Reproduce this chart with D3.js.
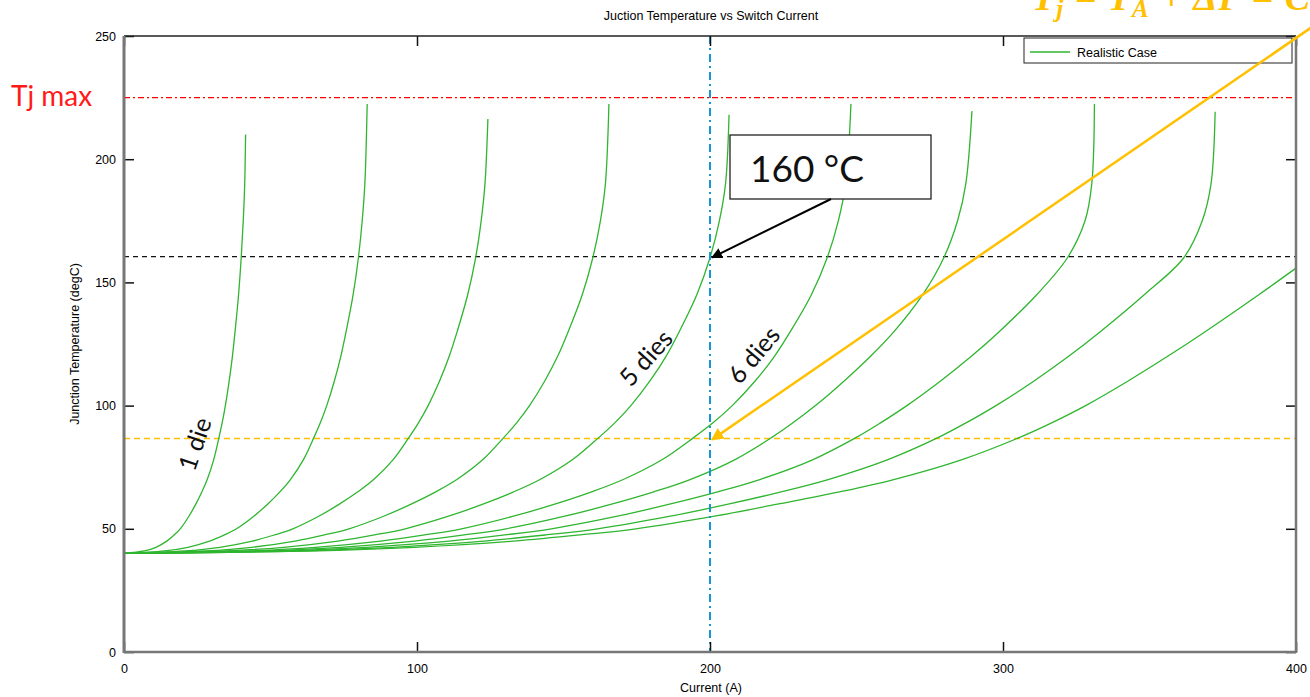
<!DOCTYPE html>
<html>
<head>
<meta charset="utf-8">
<script src="https://cdn.jsdelivr.net/npm/d3@7"></script>
<style>
  body { margin: 0; background: #fff; }
  svg { display: block; }
  .tick text { font-family: "Liberation Sans", Arial, sans-serif; font-size: 12.5px; fill: #000; }
</style>
</head>
<body>
<div id="chart"></div>
<script>
// temperature levels (degC) at which the current of each curve was read
var tempLevels = [40, 41, 42.5, 45, 47.5, 50, 55, 60, 65, 70, 78, 87, 93, 100, 110, 120, 130, 145, 160, 175, 190];

// current (A) of each curve at the temperature levels above
var die1  = [0, 6.9, 10.9, 14.6, 17.1, 19.2, 22.1, 24.5, 26.6, 28.4, 30.6, 32.4, 33.5, 34.6, 35.9, 37.0, 37.9, 39.1, 40.0, 40.7, 41.2];
var die2  = [0, 13.8, 21.8, 29.2, 34.2, 38.4, 44.2, 49, 53.2, 56.8, 61.2, 64.8, 67, 69.2, 71.8, 74, 75.8, 78.2, 80, 81.3, 82.2];
var die3  = [0, 20.7, 32.7, 43.8, 51.3, 57.6, 66.3, 73.5, 79.8, 85.2, 91.8, 97.2, 100.5, 103.8, 107.7, 111, 113.7, 117.3, 120, 121.9, 123.2];
var die4  = [0, 27.6, 43.6, 58.4, 68.4, 76.8, 88.4, 98, 106.4, 113.6, 122.4, 129.6, 134, 138.4, 143.6, 148, 151.6, 156.4, 160, 162.6, 164.3];
var die5  = [0, 34.5, 54.5, 73, 85.5, 96, 110.5, 122.5, 133, 142, 153, 162, 167.5, 173, 179.5, 185, 189.5, 195.5, 200, 203.2, 205.3];
var die6  = [0, 41.4, 65.4, 87.6, 102.6, 115.2, 132.6, 147, 159.6, 170.4, 183.6, 194.4, 201, 207.6, 215.4, 222, 227.4, 234.6, 240, 243.8, 246.3];
var die7  = [0, 46.9, 74.0, 99.1, 116.1, 130.4, 150.1, 166.4, 180.8, 193.2, 208.4, 221, 228.3, 236, 245.8, 254.8, 262.8, 272.6, 279.8, 284.5, 287.3];
var die8  = [0, 52.4, 82.8, 111, 130, 145.9, 168, 186.2, 202.6, 217, 235, 249.8, 258.2, 267.2, 278.7, 289.2, 298.7, 311.5, 322, 328, 330.3];
var die9  = [0, 58.1, 91.7, 122.9, 143.9, 161.6, 186, 206.2, 224.3, 240.3, 260.5, 277.8, 287.4, 297.6, 310.6, 322.4, 333.2, 348.2, 361.7, 368, 371];
var die10 = [0, 62.8, 99.2, 132.9, 155.6, 174.7, 201.1, 223, 244.2, 262.7, 285.8, 305.5, 316.6, 328.2, 342.7, 356.2, 369, 387.3, null, null, null];

// last point of each curve
var endCurrent = [41.5, 83, 124.2, 165.5, 206.5, 248.1, 289.4, 331.2, 372.4, 400];
var endTemp    = [210, 222.4, 216.3, 222.4, 218, 222.4, 219.5, 222.4, 219.3, 155.8];

var xTicks = [0, 100, 200, 300, 400];
var yTicks = [0, 50, 100, 150, 200, 250];

var tjMax = 225, tjMark = 160.5, tjYellow = 86.6, iMark = 200;

var curves = [die1, die2, die3, die4, die5, die6, die7, die8, die9, die10];

var W = 1310, H = 697;
var svg = d3.select("#chart").append("svg")
    .attr("width", W)
    .attr("height", H);

var x = d3.scaleLinear().domain([0, 400]).range([124, 1296]);
var y = d3.scaleLinear().domain([0, 250]).range([652, 36]);

var defs = svg.append("defs");
defs.append("marker")
    .attr("id", "headBlack")
    .attr("viewBox", "0 0 10 10")
    .attr("refX", 9).attr("refY", 5)
    .attr("markerWidth", 5.5).attr("markerHeight", 5.5)
    .attr("markerUnits", "strokeWidth")
    .attr("orient", "auto")
    .append("path").attr("d", "M0,0 L10,5 L0,10 z").attr("fill", "#000");
defs.append("marker")
    .attr("id", "headYellow")
    .attr("viewBox", "0 0 10 10")
    .attr("refX", 9).attr("refY", 5)
    .attr("markerWidth", 5).attr("markerHeight", 5)
    .attr("markerUnits", "strokeWidth")
    .attr("orient", "auto")
    .append("path").attr("d", "M0,0 L10,5 L0,10 z").attr("fill", "#ffc000");

// title and axis labels
svg.append("text")
    .attr("x", 711).attr("y", 20)
    .attr("text-anchor", "middle")
    .style("font-family", "Liberation Sans, Arial, sans-serif")
    .style("font-size", "12.5px")
    .attr("fill", "#000")
    .text("Juction Temperature vs Switch Current");

svg.append("text")
    .attr("x", 711).attr("y", 692)
    .attr("text-anchor", "middle")
    .style("font-family", "Liberation Sans, Arial, sans-serif")
    .style("font-size", "12.5px")
    .attr("fill", "#000")
    .text("Current (A)");

svg.append("text")
    .attr("transform", "translate(79,344) rotate(-90)")
    .attr("text-anchor", "middle")
    .style("font-family", "Liberation Sans, Arial, sans-serif")
    .style("font-size", "12.5px")
    .attr("fill", "#000")
    .text("Junction Temperature (degC)");

// reference lines
svg.append("line")
    .attr("x1", x(0)).attr("x2", x(400))
    .attr("y1", y(tjMax)).attr("y2", y(tjMax))
    .attr("stroke", "#ff0000").attr("stroke-width", 1.2)
    .attr("stroke-dasharray", "6,3,2,3");

svg.append("line")
    .attr("x1", x(0)).attr("x2", x(400))
    .attr("y1", y(tjMark)).attr("y2", y(tjMark))
    .attr("stroke", "#111").attr("stroke-width", 1.2)
    .attr("stroke-dasharray", "5,4");

svg.append("line")
    .attr("x1", x(0)).attr("x2", x(400))
    .attr("y1", y(tjYellow)).attr("y2", y(tjYellow))
    .attr("stroke", "#ffc000").attr("stroke-width", 1.5)
    .attr("stroke-dasharray", "6,4");

// curves
var line = d3.line()
    .x(function (d) { return x(d[0]); })
    .y(function (d) { return y(d[1]); })
    .curve(d3.curveCatmullRom.alpha(0.5));

curves.forEach(function (c, i) {
    var pts = [];
    c.forEach(function (v, j) {
        if (v != null) pts.push([v, tempLevels[j]]);
    });
    pts.push([endCurrent[i], endTemp[i]]);
    svg.append("path")
        .datum(pts)
        .attr("d", line)
        .attr("fill", "none")
        .attr("stroke", "#2fb52f")
        .attr("stroke-width", 1.3);
});

// vertical marker at 200 A
svg.append("line")
    .attr("x1", x(iMark)).attr("x2", x(iMark))
    .attr("y1", y(250)).attr("y2", y(0))
    .attr("stroke", "#1597d4").attr("stroke-width", 2)
    .attr("stroke-dasharray", "8,4,2,4");

// axes
var axL = svg.append("g").attr("transform", "translate(" + x(0) + ",0)")
    .call(d3.axisLeft(y).tickValues(yTicks).tickSize(-10).tickPadding(8));
var axB = svg.append("g").attr("transform", "translate(0," + y(0) + ")")
    .call(d3.axisBottom(x).tickValues(xTicks).tickSize(-10).tickPadding(10));
var axR = svg.append("g").attr("transform", "translate(" + x(400) + ",0)")
    .call(d3.axisRight(y).tickValues(yTicks).tickSize(-10).tickFormat(""));
var axT = svg.append("g").attr("transform", "translate(0," + y(250) + ")")
    .call(d3.axisTop(x).tickValues(xTicks).tickSize(-10).tickFormat(""));

[axL, axB, axR, axT].forEach(function (a) {
    a.select(".domain").remove();
    a.selectAll(".tick line").attr("stroke", "#111").attr("stroke-width", 1.5);
});
axB.selectAll(".tick text").attr("dy", "0.9em");

// frame
svg.append("line").attr("x1", x(0)).attr("x2", x(400)).attr("y1", y(250)).attr("y2", y(250))
    .attr("stroke", "#222").attr("stroke-width", 1.5);
svg.append("line").attr("x1", x(0)).attr("x2", x(0)).attr("y1", y(250)).attr("y2", y(0) + 1)
    .attr("stroke", "#777").attr("stroke-width", 3);
svg.append("line").attr("x1", x(0)).attr("x2", x(400)).attr("y1", y(0)).attr("y2", y(0))
    .attr("stroke", "#777").attr("stroke-width", 2.5);
svg.append("line").attr("x1", x(400)).attr("x2", x(400)).attr("y1", y(250)).attr("y2", y(0) + 1)
    .attr("stroke", "#777").attr("stroke-width", 2.5);

// legend
var lg = svg.append("g").attr("transform", "translate(1024,38)");
lg.append("rect").attr("width", 268).attr("height", 25)
    .attr("fill", "#fff").attr("stroke", "#222").attr("stroke-width", 1);
lg.append("line").attr("x1", 6).attr("x2", 46).attr("y1", 14).attr("y2", 14)
    .attr("stroke", "#2fb52f").attr("stroke-width", 1.3);
lg.append("text").attr("x", 53).attr("y", 19)
    .style("font-family", "Liberation Sans, Arial, sans-serif")
    .style("font-size", "12.5px")
    .attr("fill", "#000")
    .text("Realistic Case");

// annotations
svg.append("text")
    .attr("x", 11).attr("y", 106)
    .style("font-family", "Lato, sans-serif")
    .style("font-size", "28px")
    .attr("fill", "#ff1a1a")
    .text("Tj max");

function dieLabel(txt, cx, cy, ang) {
    svg.append("text")
        .attr("transform", "translate(" + cx + "," + cy + ") rotate(" + ang + ")")
        .attr("text-anchor", "middle")
        .attr("dy", "0.35em")
        .style("font-family", "Lato, sans-serif")
        .style("font-size", "25px")
        .attr("fill", "#111")
        .text(txt);
}
dieLabel("1 die", 195, 444, -71);
dieLabel("5 dies", 646, 358, -48);
dieLabel("6 dies", 754, 355, -50);

svg.append("rect")
    .attr("x", 730).attr("y", 135).attr("width", 201).attr("height", 64)
    .attr("fill", "#fff").attr("stroke", "#222").attr("stroke-width", 1.3);
svg.append("text")
    .attr("x", 750).attr("y", 182)
    .style("font-family", "Lato, sans-serif")
    .style("font-size", "37px")
    .attr("fill", "#111")
    .text("160 °C");

svg.append("line")
    .attr("x1", 831).attr("y1", 199)
    .attr("x2", x(iMark) + 2).attr("y2", y(tjMark) + 1)
    .attr("stroke", "#000").attr("stroke-width", 2)
    .attr("marker-end", "url(#headBlack)");

svg.append("line")
    .attr("x1", 1312).attr("y1", 27)
    .attr("x2", x(iMark) + 2).attr("y2", y(tjYellow) + 1)
    .attr("stroke", "#ffc000").attr("stroke-width", 2.5)
    .attr("marker-end", "url(#headYellow)");

// equation, cut by the top edge
var eq = svg.append("text")
    .attr("x", 1032).attr("y", 10)
    .style("font-family", "Liberation Serif, serif")
    .style("font-style", "italic")
    .style("font-weight", "bold")
    .style("font-size", "38px")
    .style("letter-spacing", "1px")
    .attr("fill", "#ffc000");
eq.append("tspan").text("T");
eq.append("tspan").attr("dy", 7).style("font-size", "25px").text("j");
eq.append("tspan").attr("dy", -7).text(" = T");
eq.append("tspan").attr("dy", 7).style("font-size", "25px").text("A");
eq.append("tspan").attr("dy", -7).text(" + ΔP = C");
</script>
</body>
</html>
